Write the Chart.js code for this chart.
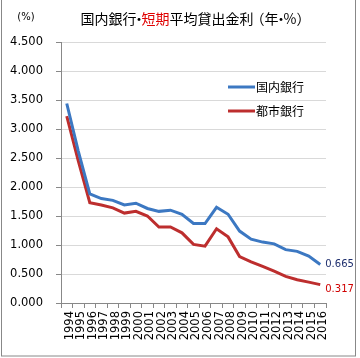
<!DOCTYPE html>
<html>
<head>
<meta charset="utf-8">
<script src="https://cdn.jsdelivr.net/npm/chart.js@4.4.1/dist/chart.umd.min.js"></script>
<style>
  body { margin: 0; background: #fff; }
  canvas { display: block; }
</style>
</head>
<body>
<canvas id="rates" width="360" height="358"></canvas>
<script>
// data (年・%)
const years = ['1994', '1995', '1996', '1997', '1998', '1999', '2000', '2001', '2002', '2003', '2004', '2005',
  '2006', '2007', '2008', '2009', '2010', '2011', '2012', '2013', '2014', '2015', '2016'];
const domestic = [3.44, 2.62, 1.88, 1.80, 1.77, 1.69, 1.72, 1.63, 1.58, 1.60, 1.53, 1.37,
  1.37, 1.65, 1.53, 1.24, 1.10, 1.05, 1.02, 0.92, 0.89, 0.81, 0.665];
const cityBanks = [3.22, 2.45, 1.73, 1.69, 1.64, 1.55, 1.58, 1.50, 1.31, 1.31, 1.21, 1.01,
  0.98, 1.28, 1.14, 0.80, 0.71, 0.63, 0.55, 0.46, 0.40, 0.36, 0.317];
const seriesNames = ['国内銀行', '都市銀行'];
const titleParts = ['国内銀行・', '短期', '平均貸出金利（年・%）'];
const unitLabel = '(%)';

const blue = '#3c78c2';
const red = '#bd2e2e';
const numFont = '"DejaVu Sans", Verdana, sans-serif';
const jpFont = '"Noto Sans CJK JP", sans-serif';

// narrow punctuation like the proportional font of the original
const narrow = { '・': [5, -4.5], '（': [11, -3], '）': [9, 0] };

const charAdvance = (c, ch) => narrow[ch] ? narrow[ch][0] : c.measureText(ch).width;

// white background, title, legend, end labels, frame
const decor = {
  id: 'decor',
  beforeDraw(chart) {
    const c = chart.ctx;
    c.save();
    c.fillStyle = '#fff';
    c.fillRect(0, 0, chart.width, chart.height);
    c.restore();
  },
  afterDraw(chart) {
    const c = chart.ctx;
    c.save();

    // title, 短期 in red
    c.font = '14px ' + jpFont;
    c.textBaseline = 'middle';
    c.textAlign = 'left';
    const colors = ['#000', '#e00000', '#000'];
    let total = 0;
    titleParts.forEach((t) => { for (const ch of t) total += charAdvance(c, ch); });
    let x = 193 - total / 2;
    titleParts.forEach((t, i) => {
      c.fillStyle = colors[i];
      for (const ch of t) {
        const shift = narrow[ch] ? narrow[ch][1] : 0;
        c.fillText(ch, x + shift, 18.5);
        x += charAdvance(c, ch);
      }
    });

    c.font = '10px ' + numFont;
    c.fillStyle = '#000';
    c.textAlign = 'center';
    c.fillText(unitLabel, 26, 17);

    // legend inside the plot
    chart.data.datasets.forEach((ds, i) => {
      const y = 87 + i * 24;
      c.strokeStyle = ds.borderColor;
      c.lineWidth = 3;
      c.beginPath();
      c.moveTo(228, y);
      c.lineTo(255, y);
      c.stroke();
      c.font = '12px ' + jpFont;
      c.fillStyle = '#000';
      c.textAlign = 'left';
      c.fillText(ds.label, 256, y);
    });

    // last values
    const xs = chart.scales.x, ys = chart.scales.y;
    const last = years.length - 1;
    c.font = '10px ' + numFont;
    c.textAlign = 'left';
    c.fillStyle = '#1f2f6e';
    c.fillText(domestic[last].toFixed(3), xs.getPixelForValue(last) + 5, ys.getPixelForValue(domestic[last]));
    c.fillStyle = '#d00000';
    c.fillText(cityBanks[last].toFixed(3), xs.getPixelForValue(last) + 5, ys.getPixelForValue(cityBanks[last]) + 5);

    // frame
    c.strokeStyle = '#888';
    c.lineWidth = 1;
    c.strokeRect(1.5, -1, 354, 357);
    c.restore();
  }
};

const ctx = document.getElementById('rates').getContext('2d');
const rateChart = new Chart(ctx, {
  type: 'line',
  data: {
    labels: years,
    datasets: [
      { label: seriesNames[0], data: domestic, borderColor: blue, backgroundColor: blue },
      { label: seriesNames[1], data: cityBanks, borderColor: red, backgroundColor: red }
    ]
  },
  options: {
    responsive: false,
    animation: false,
    devicePixelRatio: 1,
    layout: { padding: { top: 42, right: 34, bottom: 0, left: 0 } },
    elements: {
      line: { borderWidth: 3, tension: 0 },
      point: { radius: 0 }
    },
    plugins: {
      legend: { display: false },
      title: { display: false },
      tooltip: { enabled: false }
    },
    scales: {
      x: {
        offset: true,
        afterFit: (s) => { s.height = 55; },
        grid: { offset: true, drawOnChartArea: false, tickLength: 5, tickColor: '#888' },
        border: { color: '#888' },
        ticks: {
          autoSkip: false, minRotation: 90, maxRotation: 90, padding: 3, labelOffset: 3,
          color: '#000', font: { family: numFont, size: 11.5 }
        }
      },
      y: {
        min: 0,
        max: 4.5,
        afterFit: (s) => { s.width = 61; },
        grid: { color: '#d9d9d9', tickColor: '#888', tickLength: 5 },
        border: { color: '#888' },
        ticks: {
          stepSize: 0.5, padding: 13,
          color: '#000', font: { family: numFont, size: 11.5 },
          callback: (v) => v.toFixed(3)
        }
      }
    }
  },
  plugins: [decor]
});
</script>
</body>
</html>
